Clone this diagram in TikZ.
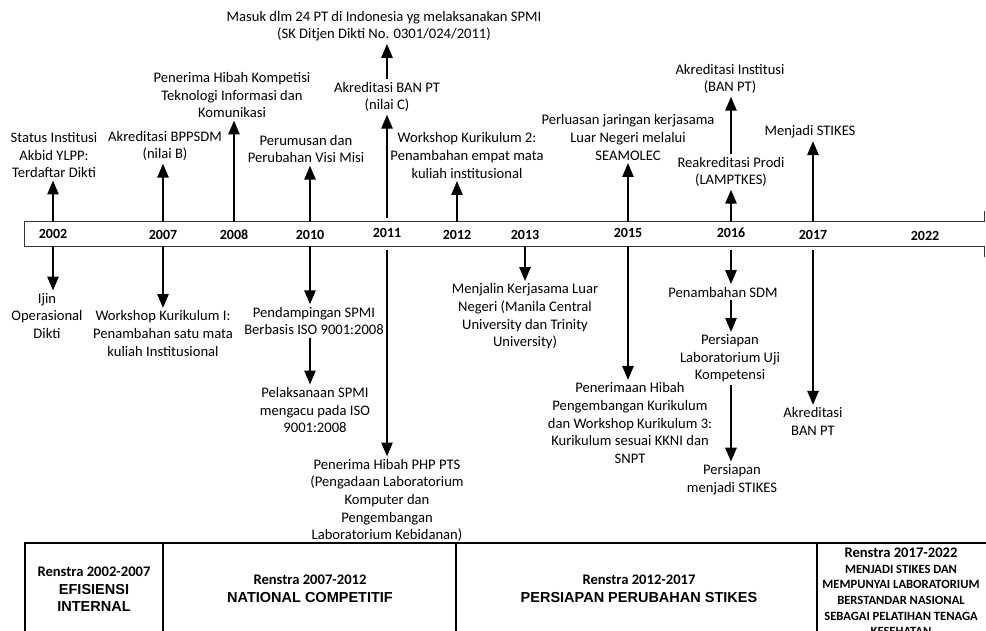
\documentclass[tikz,border=0pt]{standalone}
\usepackage{fontspec}
\setmainfont{Carlito}
\newfontfamily\headfont{Liberation Sans}
\newcommand\phasenamefont{\headfont\bfseries\fontsize{14.5}{17}\selectfont}
\newcommand\goalfont{\bfseries\fontsize{12.6}{15.6}\selectfont}
\usetikzlibrary{arrows.meta,positioning}

\begin{document}
\begin{tikzpicture}[
  x=1pt,y=-1pt,>={Triangle[width=11pt,length=14pt]},
  every node/.style={font=\fontsize{14.6}{17.6}\selectfont,inner sep=2.5pt},
  event/.style={align=center},
  year/.style={font=\fontsize{14}{16}\selectfont\bfseries},
  tick/.style={->,line width=2.5pt},
  loose/.style={shorten <=4pt},
  barline/.style={draw=black!80,line width=.9pt},
  cell/.style={draw=black,line width=1.2pt},
  phase/.style={align=center}
]
\useasboundingbox (0,0) rectangle (986,630);
% Timeline bar, its arrow head runs off the right edge.
\node[minimum width=959pt,minimum height=24pt,inner sep=0pt] (bar) at (504.5,234) {};
\draw[barline] ([yshift=11pt]bar.north east) -- (bar.north east) -- (bar.north west)
  -- (bar.south west) -- (bar.south east) -- ([yshift=-11pt]bar.south east);
\node[year] (y2002) at (53,234) {2002};
\node[year] (y2007) at (163,235) {2007};
\node[year] (y2008) at (234,235) {2008};
\node[year] (y2010) at (310,235) {2010};
\node[year] (y2011) at (387,233) {2011};
\node[year] (y2012) at (457,235) {2012};
\node[year] (y2013) at (525,235) {2013};
\node[year] (y2015) at (628,233) {2015};
\node[year] (y2016) at (731,233) {2016};
\node[year] (y2017) at (813,235) {2017};
\node[year] (y2022) at (925,236) {2022};
% Events above the bar
\node[event] (status) at (54,155) {Status Institusi\\Akbid YLPP:\\Terdaftar Dikti};
\node[event] (bppsdm) at (165,146) {Akreditasi BPPSDM\\(nilai B)};
\node[event] (hibahti) at (232,95) {Penerima Hibah Kompetisi\\Teknologi Informasi dan\\Komunikasi};
\node[event] (visi) at (306,149) {Perumusan dan\\Perubahan Visi Misi};
\node[event] (banc) at (387,97) {Akreditasi BAN PT\\(nilai C)};
\node[event] (spmi) at (384,26) {Masuk dlm 24 PT di Indonesia yg melaksanakan SPMI\\(SK Ditjen Dikti No. 0301/024/2011)};
\node[event] (kur2) at (467,155.5) {Workshop Kurikulum 2:\\Penambahan empat mata\\kuliah institusional};
\node[event] (seamolec) at (628,137.5) {Perluasan jaringan kerjasama\\Luar Negeri melalui\\SEAMOLEC};
\node[event] (lamptkes) at (731,172) {Reakreditasi Prodi\\(LAMPTKES)};
\node[event] (institusi) at (730,79) {Akreditasi Institusi\\(BAN PT)};
\node[event] (stikes) at (810,132) {Menjadi STIKES};
\draw[tick] (y2002 |- bar.north) -- (y2002 |- status.south);
\draw[tick] (y2007 |- bar.north) -- (y2007 |- bppsdm.south);
\draw[tick] (y2008 |- bar.north) -- (y2008 |- hibahti.south);
\draw[tick] (y2010 |- bar.north) -- (y2010 |- visi.south);
\draw[tick,loose] (y2011 |- bar.north) -- (y2011 |- banc.south);
\draw[tick] (y2011 |- banc.north) -- (y2011 |- spmi.south);
\draw[tick] (y2012 |- bar.north) -- (y2012 |- kur2.south);
\draw[tick] (y2015 |- bar.north) -- (y2015 |- seamolec.south);
\draw[tick] (y2016 |- bar.north) -- (y2016 |- lamptkes.south);
\draw[tick] (y2016 |- lamptkes.north) -- (y2016 |- institusi.south);
\draw[tick] (y2017 |- bar.north) -- (y2017 |- stikes.south);
% Events below the bar
\node[event] (ijin) at (47,316) {Ijin\\Operasional\\Dikti};
\node[event] (kur1) at (163,333.5) {Workshop Kurikulum I:\\Penambahan satu mata\\kuliah Institusional};
\node[event] (pendamp) at (314,321) {Pendampingan SPMI\\Berbasis ISO 9001:2008};
\node[event] (pelaks) at (315,410) {Pelaksanaan SPMI\\mengacu pada ISO\\9001:2008};
\node[event] (php) at (387,500.5) {Penerima Hibah PHP PTS\\(Pengadaan Laboratorium\\Komputer dan\\Pengembangan\\Laboratorium Kebidanan)};
\node[event] (manila) at (525,316.5) {Menjalin Kerjasama Luar\\Negeri (Manila Central\\University dan Trinity\\University)};
\node[event] (kur3) at (630,423) {Penerimaan Hibah\\Pengembangan Kurikulum\\dan Workshop Kurikulum 3:\\Kurikulum sesuai KKNI dan\\SNPT};
\node[event] (sdm) at (723,292) {Penambahan SDM};
\node[event] (lab) at (730,358.5) {Persiapan\\Laboratorium Uji\\Kompetensi};
\node[event] (persiapan) at (732,479.5) {Persiapan\\menjadi STIKES};
\node[event] (banpt) at (813,421.5) {Akreditasi\\BAN PT};
\draw[tick] (y2002 |- bar.south) -- (y2002 |- ijin.north);
\draw[tick] (y2007 |- bar.south) -- (y2007 |- kur1.north);
\draw[tick] (y2010 |- bar.south) -- (y2010 |- pendamp.north);
\draw[tick] (y2010 |- pendamp.south) -- (y2010 |- pelaks.north);
\draw[tick,loose] (y2011 |- bar.south) -- (y2011 |- php.north);
\draw[tick] (y2013 |- bar.south) -- (y2013 |- manila.north);
\draw[tick] (y2015 |- bar.south) -- (y2015 |- kur3.north);
\draw[tick,loose] (y2016 |- bar.south) -- (y2016 |- sdm.north);
\draw[tick] (y2016 |- sdm.south) -- (y2016 |- lab.north);
\draw[tick] (y2016 |- lab.south) -- (y2016 |- persiapan.north);
\draw[tick,loose] (y2017 |- bar.south) -- (y2017 |- banpt.north);
% Renstra periods, the table runs past the lower edge.
\draw[cell] (25,543) rectangle (163,660);
\draw[cell] (163,543) rectangle (456,660);
\draw[cell] (456,543) rectangle (817,660);
\draw[cell] (817,543) rectangle (1000,660);
\node[phase] (r1) at (94,589.5) {\textbf{Renstra 2002-2007}\\{\phasenamefont EFISIENSI}\\{\phasenamefont INTERNAL}};
\node[phase] (r2) at (310,588.5) {\textbf{Renstra 2007-2012}\\{\phasenamefont NATIONAL COMPETITIF}};
\node[phase] (r3) at (639,589) {\textbf{Renstra 2012-2017}\\{\phasenamefont PERSIAPAN PERUBAHAN STIKES}};
\node[phase,anchor=north,font=\goalfont] (r4) at (901,545.5) {{\fontsize{14.6}{16}\selectfont Renstra 2017-2022}\\MENJADI STIKES DAN\\MEMPUNYAI LABORATORIUM\\BERSTANDAR NASIONAL\\SEBAGAI PELATIHAN TENAGA\\KESEHATAN};
\end{tikzpicture}
\end{document}
